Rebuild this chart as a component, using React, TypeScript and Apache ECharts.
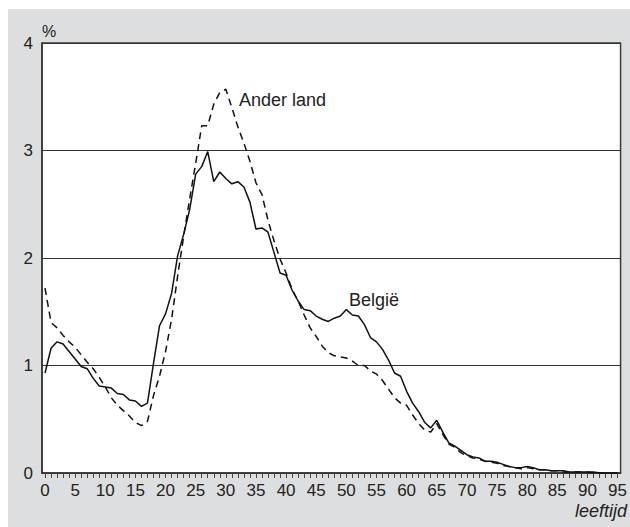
import React, { useEffect, useRef } from "react";
import * as echarts from "echarts";

const ages: string[] = Array.from({ length: 96 }, (_, i) => String(i));

const belgie: number[] = [
  0.93, 1.16, 1.22, 1.2, 1.13, 1.06, 0.99, 0.97, 0.88, 0.81,
  0.8, 0.79, 0.74, 0.73, 0.68, 0.67, 0.62, 0.65, 1.02, 1.37,
  1.48, 1.67, 2.02, 2.22, 2.45, 2.78, 2.85, 2.99, 2.71, 2.8,
  2.74, 2.69, 2.71, 2.66, 2.52, 2.27, 2.28, 2.24, 2.05, 1.86,
  1.84, 1.7, 1.6, 1.52, 1.51, 1.46, 1.43, 1.41, 1.44, 1.46,
  1.52, 1.47, 1.46, 1.38, 1.26, 1.22, 1.15, 1.05, 0.93, 0.9,
  0.76, 0.65, 0.57, 0.47, 0.42, 0.49, 0.38, 0.28, 0.25, 0.21,
  0.17, 0.15, 0.14, 0.11, 0.11, 0.1, 0.08, 0.06, 0.05, 0.05,
  0.06, 0.05, 0.03, 0.03, 0.02, 0.02, 0.02, 0.01, 0.01, 0.01,
  0.01, 0.01, 0.0, 0.0, 0.0, 0.0,
];

const anderLand: number[] = [
  1.72, 1.4, 1.35, 1.28, 1.22, 1.17, 1.1, 1.03, 0.97, 0.89,
  0.8, 0.7, 0.63, 0.58, 0.53, 0.47, 0.44, 0.48, 0.72, 0.9,
  1.13, 1.43, 1.83, 2.2, 2.55, 2.88, 3.23, 3.23, 3.43, 3.54,
  3.57, 3.4, 3.22, 3.07, 2.9, 2.7, 2.59, 2.35, 2.16, 1.99,
  1.86, 1.71, 1.6, 1.47, 1.35, 1.27, 1.18, 1.12, 1.09, 1.08,
  1.07, 1.04, 1.0, 1.0, 0.95, 0.92, 0.86, 0.78, 0.7, 0.65,
  0.63, 0.54, 0.46, 0.4, 0.38, 0.46, 0.36, 0.27, 0.24, 0.19,
  0.16, 0.14, 0.13, 0.11, 0.1, 0.09, 0.07, 0.06, 0.05, 0.04,
  0.05, 0.04, 0.03, 0.03, 0.02, 0.02, 0.01, 0.01, 0.01, 0.01,
  0.01, 0.0, 0.0, 0.0, 0.0, 0.0,
];

const yTicks = { min: 0, max: 4, interval: 1 };
const FONT = "'Liberation Sans', Arial, sans-serif";

export default function App() {
  const ref = useRef<HTMLDivElement>(null);
  useEffect(() => {
    if (!ref.current) return;
    const chart = echarts.init(ref.current, undefined, { renderer: "svg" });
    chart.setOption({
      animation: false,
      backgroundColor: "#dddee0",
      textStyle: { fontFamily: FONT },
      grid: {
        left: 34,
        top: 34,
        right: 8,
        bottom: 54,
        show: true,
        backgroundColor: "#ffffff",
        borderColor: "#3a3a3a",
        borderWidth: 1.5,
      },
      xAxis: {
        type: "category",
        data: ages,
        boundaryGap: true,
        axisLine: { show: true, lineStyle: { color: "#333", width: 1.5 } },
        axisTick: {
          show: true,
          alignWithLabel: true,
          interval: 0,
          length: 5,
          lineStyle: { color: "#444", width: 1 },
        },
        axisLabel: {
          interval: 4,
          fontSize: 17,
          color: "#222",
          margin: 9,
          fontFamily: FONT,
        },
        splitLine: { show: false },
      },
      yAxis: {
        type: "value",
        min: yTicks.min,
        max: yTicks.max,
        interval: yTicks.interval,
        axisLine: { show: true, lineStyle: { color: "#333", width: 1.5 } },
        axisTick: { show: false },
        axisLabel: { fontSize: 17, color: "#222", margin: 9, fontFamily: FONT },
        splitLine: { show: true, lineStyle: { color: "#333", width: 1 } },
      },
      series: [
        {
          name: "Ander land",
          type: "line",
          data: anderLand,
          symbol: "none",
          smooth: false,
          lineStyle: { color: "#111", width: 1.5, type: [7, 5] },
          z: 3,
        },
        {
          name: "België",
          type: "line",
          data: belgie,
          symbol: "none",
          smooth: false,
          lineStyle: { color: "#111", width: 1.5, type: "solid" },
          z: 4,
        },
      ],
      graphic: [
        {
          type: "text",
          left: 34,
          top: 14,
          style: { text: "%", fontSize: 16, fill: "#222", fontFamily: FONT },
        },
        {
          type: "text",
          x: 231,
          y: 91,
          style: {
            text: "Ander land",
            fontSize: 18,
            fill: "#222",
            fontFamily: FONT,
            verticalAlign: "middle",
          },
        },
        {
          type: "text",
          x: 341,
          y: 291,
          style: {
            text: "België",
            fontSize: 18,
            fill: "#222",
            fontFamily: FONT,
            verticalAlign: "middle",
          },
        },
        {
          type: "text",
          x: 619,
          y: 502,
          style: {
            text: "leeftijd",
            fontSize: 18,
            fontStyle: "italic",
            fill: "#222",
            fontFamily: FONT,
            align: "right",
            verticalAlign: "middle",
          },
        },
      ],
    });
    return () => chart.dispose();
  }, []);
  return (
    <div
      ref={ref}
      style={{ position: "absolute", left: 8, top: 9, width: 622, height: 518 }}
    />
  );
}
